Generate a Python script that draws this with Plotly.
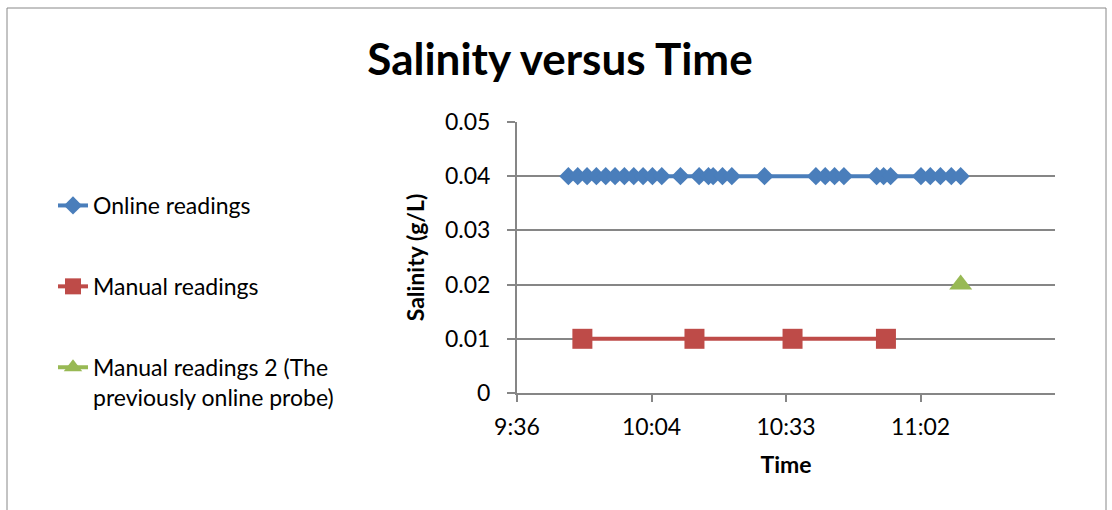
import plotly.graph_objects as go

DAY = "2000-01-01 "

online_times = ["09:47", "09:49", "09:51", "09:53", "09:55", "09:57", "09:59", "10:01", "10:03", "10:05", "10:07",
                "10:11",
                "10:15", "10:17", "10:18", "10:20", "10:22",
                "10:29",
                "10:40", "10:42", "10:44", "10:46",
                "10:53", "10:54:30", "10:56",
                "11:02:30", "11:04:30", "11:06:40", "11:09", "11:11"]
online_vals = [0.04] * len(online_times)

manual_times = ["09:50", "10:14", "10:35", "10:55"]
manual_vals = [0.01, 0.01, 0.01, 0.01]

manual2_times = ["11:11"]
manual2_vals = [0.02]

x_tickvals = ["09:36:00", "10:04:48", "10:33:36", "11:02:24"]
x_ticktext = ["9:36", "10:04", "10:33", "11:02"]
x_range = ["09:36:00", "11:31:12"]
y_tickvals = [0, 0.01, 0.02, 0.03, 0.04, 0.05]
y_ticktext = ["0", "0.01", "0.02", "0.03", "0.04", "0.05"]

FONT = "Lato, Open Sans, sans-serif"
W, H = 1112, 510
L, R, T, B = 517, 1055, 122, 393

fig = go.Figure()
fig.add_trace(go.Scatter(
    x=[DAY + t for t in online_times], y=online_vals, mode="lines+markers",
    name="Online readings", legendgroup="a",
    line=dict(color="#4A7EBB", width=4),
    marker=dict(symbol="diamond", size=14, color="#4A7EBB"),
))
fig.add_trace(go.Scatter(
    x=[DAY + t for t in manual_times], y=manual_vals, mode="lines+markers",
    name="Manual readings", legendgroup="b",
    line=dict(color="#BE4B48", width=4),
    marker=dict(symbol="square", size=20, color="#BE4B48"),
))
fig.add_trace(go.Scatter(
    x=[DAY + t for t in manual2_times], y=manual2_vals, mode="lines+markers",
    name="Manual readings 2 (The<br>previously online probe)", legendgroup="c",
    line=dict(color="#98B954", width=4),
    marker=dict(symbol="triangle-up", size=20, color="#98B954"),
))

pw, ph = R - L, B - T
def px_x(p):
    return (p - L) / pw
def px_y(p):
    return (B - p) / ph

fig.add_shape(type="rect", xref="paper", yref="paper",
              x0=px_x(7), x1=px_x(1106), y0=px_y(530), y1=px_y(8),
              line=dict(color="#888888", width=1), layer="below")

fig.update_layout(
    width=W, height=H,
    margin=dict(l=L, r=W - R, t=T, b=H - B),
    paper_bgcolor="white", plot_bgcolor="white",
    font=dict(family=FONT, size=24, color="#000000"),
    title=dict(text="<b>Salinity versus Time</b>", x=560 / W,
               xanchor="center", y=1 - 60 / H, yanchor="middle",
               font=dict(family=FONT, size=44, color="#000000")),
    legend=dict(x=px_x(53), xanchor="left", y=px_y(184), yanchor="top",
                bgcolor="rgba(0,0,0,0)", tracegroupgap=48, valign="top",
                font=dict(family=FONT, size=23, color="#000000")),
    showlegend=True,
)
fig.update_xaxes(
    type="date", range=[DAY + x_range[0], DAY + x_range[1]],
    tickvals=[DAY + t for t in x_tickvals], ticktext=x_ticktext,
    showgrid=False, showline=True, linecolor="#868686", linewidth=2,
    ticks="outside", ticklen=7, tickcolor="#868686", tickwidth=2,
    tickfont=dict(family=FONT, size=23), ticklabelstandoff=5,
    title=dict(text="<b>Time</b>", font=dict(family=FONT, size=23), standoff=18),
    zeroline=False,
)
fig.update_yaxes(
    range=[0, 0.05], tickvals=y_tickvals, ticktext=y_ticktext,
    showgrid=True, gridcolor="#868686", gridwidth=1.5,
    showline=True, linecolor="#868686", linewidth=2,
    ticks="outside", ticklen=8, tickcolor="#868686", tickwidth=2,
    tickfont=dict(family=FONT, size=23), ticklabelstandoff=12,
    title=dict(text="<b>Salinity (g/L)</b>", font=dict(family=FONT, size=23), standoff=14),
    zeroline=False,
)

fig.write_html("out.html")
